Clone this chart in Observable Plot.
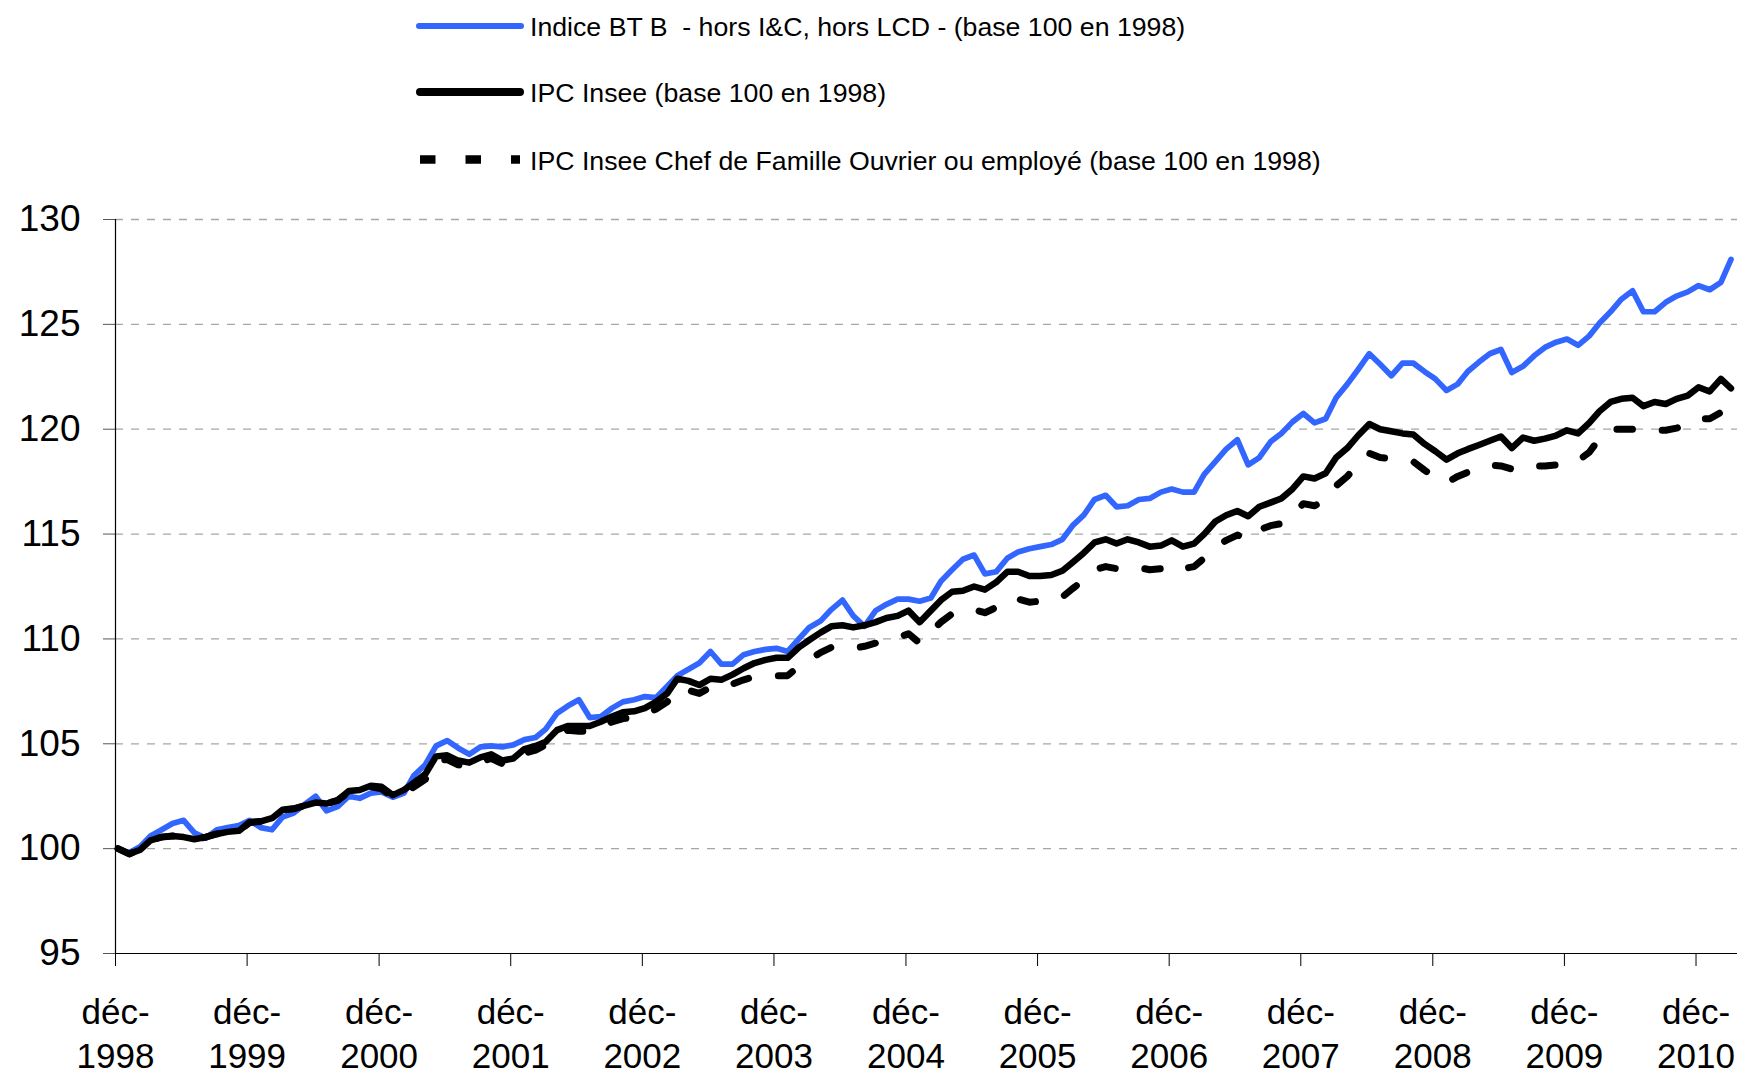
<!DOCTYPE html>
<html>
<head>
<meta charset="utf-8">
<script src="https://cdn.jsdelivr.net/npm/d3@7"></script>
<script src="https://cdn.jsdelivr.net/npm/@observablehq/plot@0.6"></script>
<style>
  html, body { margin: 0; padding: 0; background: #fff; }
  body { width: 1745px; height: 1074px; overflow: hidden; font-family: "Liberation Sans", Arial, sans-serif; }
  #legend { display: block; }
  #legend text { white-space: pre; }
</style>
</head>
<body>
<svg id="legend" width="1745" height="185"></svg>
<div id="chart"></div>
<script>
// Series labels
const seriesNames = [
  "Indice BT B  - hors I&C, hors LCD - (base 100 en 1998)",
  "IPC Insee (base 100 en 1998)",
  "IPC Insee Chef de Famille Ouvrier ou employé (base 100 en 1998)"
];

// Monthly values, déc-1998 … mars-2011
const startYear = 1998, startMonth = 11; // December 1998

const indiceBTB = [
  100.0, 99.8, 100.1, 100.6, 100.9, 101.2, 101.35, 100.75, 100.5, 100.9, 101.0, 101.1,
  101.35, 101.0, 100.9, 101.5, 101.7, 102.1, 102.5, 101.8, 102.0, 102.5, 102.4, 102.65,
  102.7, 102.45, 102.65, 103.5, 104.0, 104.9, 105.15, 104.8, 104.5, 104.85, 104.9, 104.85,
  104.95, 105.2, 105.3, 105.7, 106.45, 106.8, 107.1, 106.25, 106.3, 106.7, 107.0, 107.1,
  107.25, 107.2, 107.75, 108.25, 108.55, 108.85, 109.4, 108.8, 108.8, 109.25, 109.4, 109.5,
  109.55, 109.4, 110.0, 110.55, 110.85, 111.4, 111.85, 111.1, 110.6, 111.35, 111.65, 111.9,
  111.9, 111.8, 111.95, 112.75, 113.3, 113.8, 114.0, 113.1, 113.2, 113.85, 114.15, 114.3,
  114.4, 114.5, 114.75, 115.4, 115.9, 116.65, 116.85, 116.3, 116.35, 116.65, 116.7, 117.0,
  117.15, 117.0, 117.0, 117.85, 118.45, 119.05, 119.5, 118.3, 118.65, 119.4, 119.8, 120.35,
  120.75, 120.3, 120.5, 121.5, 122.15, 122.85, 123.6, 123.1, 122.55, 123.15, 123.15, 122.75,
  122.4, 121.85, 122.15, 122.75, 123.2, 123.6, 123.8, 122.7, 123.0, 123.5, 123.9, 124.15,
  124.3, 124.0, 124.45, 125.05, 125.6, 126.2, 126.6, 125.6, 125.6, 126.05, 126.35, 126.55,
  126.85, 126.65, 127.0, 128.1
];

const ipcInsee = [
  100.0, 99.75, 99.95, 100.4, 100.55, 100.6, 100.55, 100.45, 100.55, 100.7, 100.8, 100.85,
  101.25, 101.3, 101.45, 101.85, 101.9, 102.05, 102.2, 102.15, 102.3, 102.75, 102.8, 103.0,
  102.95, 102.55, 102.8, 103.15, 103.55, 104.4, 104.45, 104.2, 104.1, 104.35, 104.5, 104.2,
  104.3, 104.75, 104.9, 105.1, 105.65, 105.85, 105.85, 105.85, 106.05, 106.3, 106.5, 106.55,
  106.7, 107.0, 107.4, 108.1, 108.0, 107.8, 108.1, 108.05, 108.3, 108.6, 108.85, 109.0,
  109.1, 109.1, 109.6, 109.95, 110.3, 110.6, 110.65, 110.55, 110.65, 110.8, 111.0, 111.1,
  111.35, 110.8, 111.35, 111.85, 112.25, 112.3, 112.5, 112.35, 112.7, 113.2, 113.2, 113.0,
  113.0, 113.05, 113.25, 113.65, 114.1, 114.6, 114.75, 114.55, 114.75, 114.6, 114.4, 114.45,
  114.7, 114.4, 114.55, 115.0, 115.6, 115.9, 116.1, 115.85, 116.3, 116.5, 116.7, 117.15,
  117.75, 117.65, 117.9, 118.65, 119.1, 119.7, 120.25, 120.0, 119.9, 119.8, 119.75, 119.3,
  118.95, 118.55, 118.85, 119.05, 119.25, 119.45, 119.65, 119.1, 119.6, 119.45, 119.55, 119.7,
  119.95, 119.8, 120.3, 120.85, 121.3, 121.45, 121.5, 121.1, 121.3, 121.2, 121.45, 121.6,
  122.0, 121.8, 122.4, 121.95
];

const ipcOuvrier = [
  100.0, 99.75, 99.95, 100.4, 100.55, 100.6, 100.55, 100.45, 100.55, 100.7, 100.8, 100.85,
  101.25, 101.3, 101.45, 101.85, 101.9, 102.05, 102.2, 102.15, 102.3, 102.7, 102.75, 102.95,
  102.85, 102.45, 102.65, 102.95, 103.3, 104.2, 104.25, 104.0, 103.9, 104.15, 104.3, 104.05,
  104.15, 104.55, 104.7, 104.95, 105.45, 105.65, 105.6, 105.6, 105.8, 106.05, 106.2, 106.25,
  106.4, 106.65, 107.0, 107.6, 107.55, 107.4, 107.7, 107.65, 107.85, 108.05, 108.2, 108.2,
  108.25, 108.25, 108.7, 109.0, 109.35, 109.6, 109.65, 109.55, 109.65, 109.8, 109.95, 110.05,
  110.25, 109.8, 110.35, 110.8, 111.2, 111.2, 111.4, 111.25, 111.5, 111.9, 111.9, 111.75,
  111.8, 111.85, 112.0, 112.4, 112.8, 113.3, 113.45, 113.35, 113.45, 113.4, 113.3, 113.35,
  113.55, 113.35, 113.45, 113.85, 114.4, 114.7, 114.95, 114.75, 115.2, 115.4, 115.5, 115.9,
  116.45, 116.35, 116.6, 117.3, 117.75, 118.35, 118.85, 118.65, 118.6, 118.5, 118.45, 118.05,
  117.7, 117.45, 117.75, 117.95, 118.15, 118.3, 118.25, 118.1, 118.3, 118.25, 118.25, 118.3,
  118.45, 118.5, 118.9, 119.55, 120.0, 120.0, 120.0, 119.9, 119.95, 119.95, 120.05, 120.2,
  120.5, 120.5, 120.8, 121.55
];

// Axis ticks
const yTicks = [95, 100, 105, 110, 115, 120, 125, 130];
const yGridTicks = [100, 105, 110, 115, 120, 125, 130];
const tickYears = [1998, 1999, 2000, 2001, 2002, 2003, 2004, 2005, 2006, 2007, 2008, 2009, 2010];
const tickMonthLabel = "déc-";

// Colours
const colors = ["#3366ff", "#000000", "#000000"];

// ---- build table ----
const months = indiceBTB.map((_, i) => new Date(Date.UTC(startYear, startMonth + i, 8)));
const rows = months.map((d, i) => ({date: d, bt: indiceBTB[i], ipc: ipcInsee[i], ouv: ipcOuvrier[i]}));
const xTicks = tickYears.map(y => new Date(Date.UTC(y, 11, 1)));
const xDomain = [new Date(Date.UTC(1998, 11, 1)), new Date(Date.UTC(2011, 2, 26))];

// ---- legend ----
const lg = d3.select("#legend");
const legendRows = [
  {y: 26, base: 36, stroke: colors[0], width: 6, dash: null, cap: "round", x1: 419, x2: 521},
  {y: 92, base: 101.7, stroke: colors[1], width: 8, dash: null, cap: "round", x1: 420, x2: 520},
  {y: 159.5, base: 169.5, stroke: colors[2], width: 8.5, dash: "15.5,30", cap: "butt", x1: 420, x2: 520}
];
legendRows.forEach((r, i) => {
  lg.append("line")
    .attr("x1", r.x1).attr("x2", r.x2)
    .attr("y1", r.y).attr("y2", r.y)
    .attr("stroke", r.stroke).attr("stroke-width", r.width)
    .attr("stroke-linecap", r.cap)
    .attr("stroke-dasharray", r.dash);
  lg.append("text")
    .attr("x", 530).attr("y", r.base)
    .attr("font-family", "'Liberation Sans', Arial, sans-serif")
    .attr("font-size", 26.7)
    .attr("fill", "#000")
    .attr("xml:space", "preserve")
    .text(seriesNames[i]);
});

// ---- chart ----
const chart = Plot.plot({
  width: 1745,
  height: 889,
  marginTop: 34,
  marginBottom: 121,
  marginLeft: 115,
  marginRight: 8,
  style: {fontFamily: "'Liberation Sans', Arial, sans-serif", background: "#fff", color: "#000", overflow: "visible"},
  x: {type: "utc", domain: xDomain},
  y: {domain: [95, 130]},
  marks: [
    Plot.gridY(yGridTicks, {stroke: "#a6a6a6", strokeOpacity: 1, strokeWidth: 1.3, strokeDasharray: "8,8"}),
    Plot.axisY(yTicks, {tickSize: 12, tickPadding: 23, fontSize: 37, stroke: "#555", fill: "#000", label: null}),
    Plot.axisX(xTicks, {
      tickSize: 13, tickPadding: 27, fontSize: 35, lineHeight: 1.24,
      stroke: "#000", fill: "#000", label: null,
      tickFormat: d => `${tickMonthLabel}\n${d.getUTCFullYear()}`
    }),
    Plot.ruleX([xDomain[0]], {stroke: "#000", strokeWidth: 1.2}),
    Plot.ruleY([95], {stroke: "#000", strokeWidth: 1.2}),
    Plot.lineY(rows, {x: "date", y: "bt", stroke: colors[0], strokeWidth: 5.7, strokeLinejoin: "round", strokeLinecap: "round"}),
    Plot.lineY(rows, {x: "date", y: "ipc", stroke: colors[1], strokeWidth: 6.5, strokeLinejoin: "round", strokeLinecap: "round"}),
    Plot.lineY(rows, {x: "date", y: "ouv", stroke: colors[2], strokeWidth: 7, strokeDasharray: "15.5,30", strokeLinejoin: "round"})
  ]
});
document.getElementById("chart").appendChild(chart);
</script>
</body>
</html>
